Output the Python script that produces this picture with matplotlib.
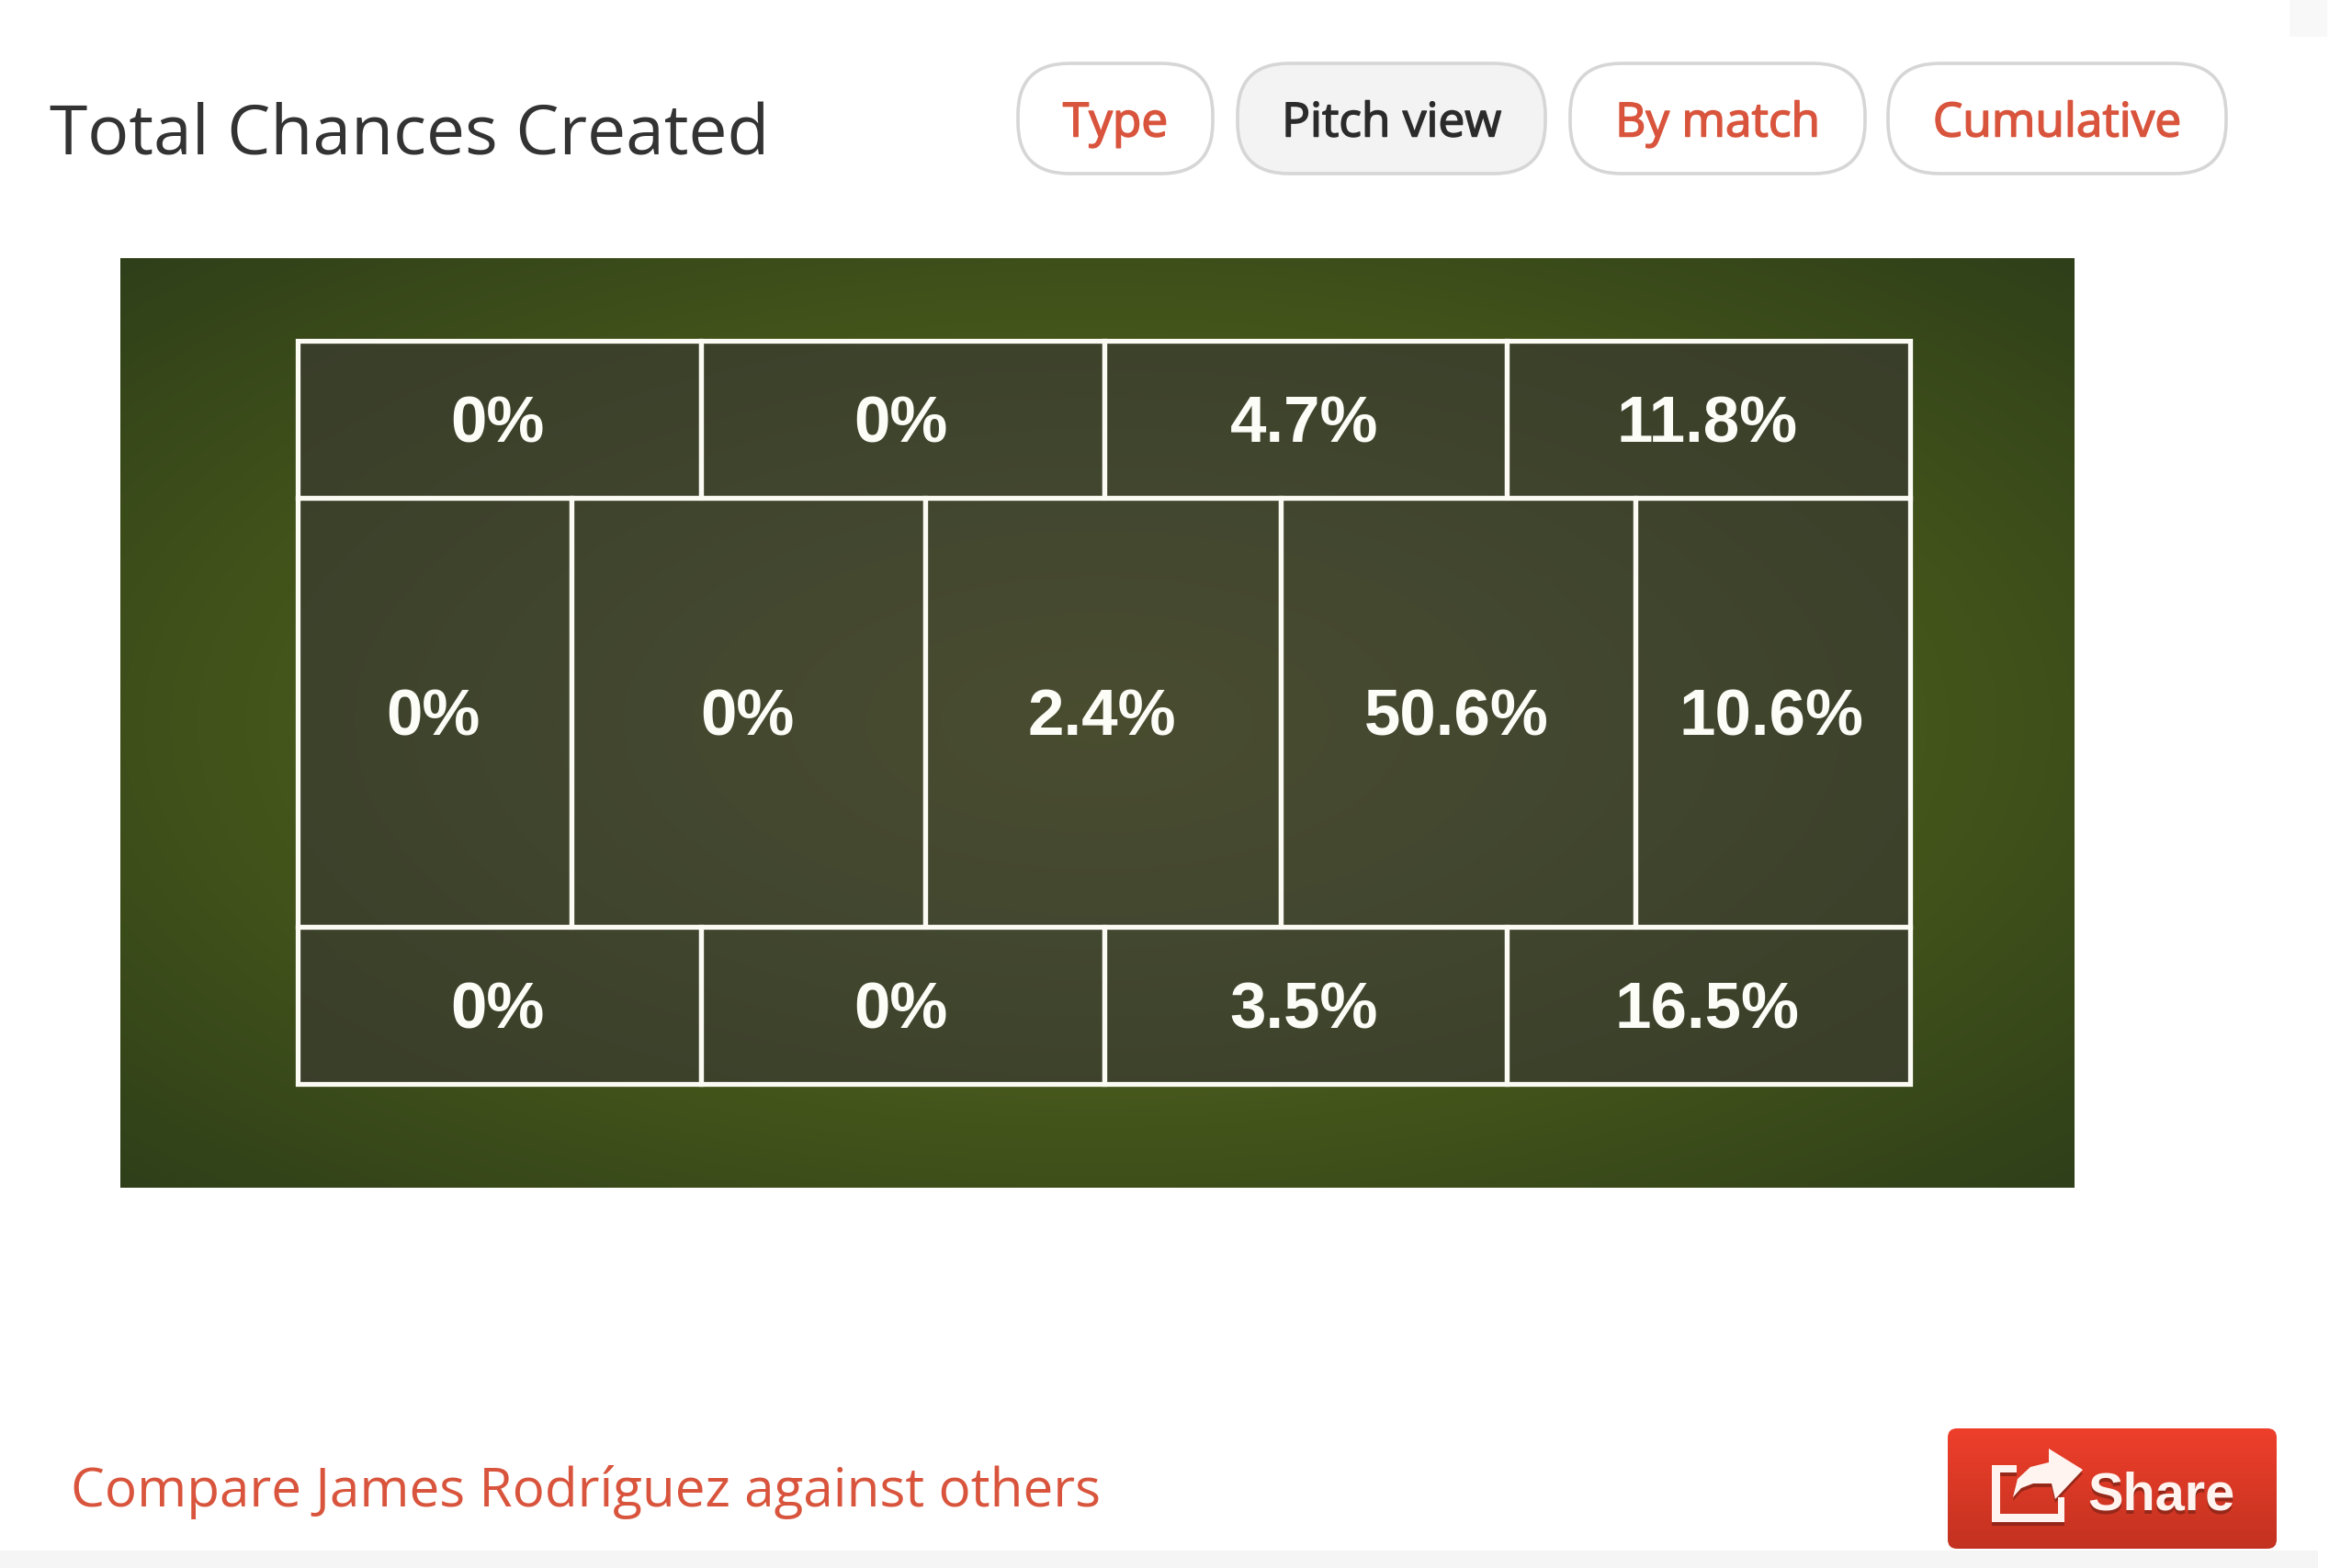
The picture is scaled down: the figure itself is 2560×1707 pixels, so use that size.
import matplotlib
matplotlib.use('Agg')
import matplotlib.pyplot as plt
import matplotlib.patheffects as pe
import numpy as np
from matplotlib.colors import LinearSegmentedColormap, to_rgba
from matplotlib.patches import FancyBboxPatch, Polygon, Rectangle

title = 'Total Chances Created'
buttons = ['Type', 'Pitch view', 'By match', 'Cumulative']
active_button = 'Pitch view'
compare_text = 'Compare James Rodríguez against others'
share_text = 'Share'

top_row = [0, 0, 4.7, 11.8]
middle_row = [0, 0, 2.4, 50.6, 10.6]
bottom_row = [0, 0, 3.5, 16.5]

RED = '#d9543c'
LINE = '#fbfbf4'

# page is laid out in pixels, y pointing down
fig = plt.figure(figsize=(25.6, 17.07), dpi=100)
ax = fig.add_axes([0, 0, 1, 1])


def rounded(x0, y0, x1, y1, r, **kw):
    p = FancyBboxPatch((x0 + r, y0 + r), x1 - x0 - 2 * r, y1 - y0 - 2 * r,
                       boxstyle=f'round,pad={r},rounding_size={r}', **kw)
    ax.add_patch(p)
    return p


# page furniture
ax.add_patch(Rectangle((0, 1688), 2523, 19, fc='#f5f5f5', ec='none'))
ax.add_patch(Rectangle((2492, 0), 41, 40, fc='#f8f8f8', ec='none'))

ax.text(54, 149, title, family='Open Sans', fontsize=54, color='#333333',
        ha='left', va='center')

button_x = [(1108, 1320), (1347, 1682), (1709, 2030), (2055, 2423)]
for name, (x0, x1) in zip(buttons, button_x):
    on = name == active_button
    rounded(x0, 69, x1, 189, 56, fc='#f3f3f3' if on else 'white', ec='#d6d6d6', lw=2.6)
    color = '#2b2b2b' if on else RED
    # slight stroke, the buttons use a heavier cut than Open Sans regular
    ax.text((x0 + x1) / 2, 135, name, family='Open Sans', fontsize=37, color=color,
            ha='center', va='center',
            path_effects=[pe.withStroke(linewidth=1.1, foreground=color)])

# pitch background, elliptical glow
px0, px1, py0, py1 = 131, 2258, 281, 1293
gx, gy = np.meshgrid(np.linspace(-1, 1, 500), np.linspace(-1, 1, 300))
glow = np.clip(np.sqrt((gx ** 2 + gy ** 2) / 2), 0, 1)
pitch_cmap = LinearSegmentedColormap.from_list(
    'pitch', [(0, '#6f792b'), (0.33, '#58672a'), (0.6, '#44551b'), (1, '#2f3f19')])
ax.imshow(glow, extent=(px0, px1, py1, py0), cmap=pitch_cmap, aspect='auto',
          interpolation='bilinear', vmin=0, vmax=1, zorder=1)

# zones
gx0, gx1 = 324, 2079
row_y = [371, 542, 1009, 1180]
side_edges = np.linspace(gx0, gx1, len(top_row) + 1)
middle_edges = [gx0, 622, 1007, 1394, 1780, gx1]

rows = [(top_row, side_edges, 0), (middle_row, middle_edges, 1), (bottom_row, side_edges, 2)]
for values, edges, r in rows:
    y0, y1 = row_y[r], row_y[r + 1]
    for i, v in enumerate(values):
        x0, x1 = edges[i], edges[i + 1]
        ax.add_patch(Rectangle((x0, y0), x1 - x0, y1 - y0, fc=to_rgba('#3a3a32', 0.7),
                               ec=LINE, lw=3.8, zorder=2))
        ax.text((x0 + x1) / 2 - 1.5, (y0 + y1) / 2 + 7, f'{v:g}%', family='Liberation Sans',
                fontweight='bold', fontsize=51, color='#fdfdf8', ha='center',
                va='center', zorder=3)

ax.text(77, 1624, compare_text, family='Open Sans', fontsize=42.1, color=RED,
        ha='left', va='center')

# share button
bx0, bx1, by0, by1 = 2120, 2478, 1555, 1686
clip = rounded(bx0, by0, bx1, by1, 10, fc='none', ec='none')
grad = ax.imshow(np.linspace(0, 1, 100)[:, None], extent=(bx0, bx1, by1, by0),
                 cmap=LinearSegmentedColormap.from_list('btn', ['#ee3f2b', '#c33220']),
                 aspect='auto', zorder=2)
grad.set_clip_path(clip)


def icon(dx, dy, color, z):
    tray = [(2168, 1595), (2195, 1595), (2195, 1603), (2177, 1603), (2177, 1648),
            (2240, 1648), (2240, 1630), (2247, 1630), (2247, 1657), (2168, 1657)]
    arrow = [(2230, 1577), (2267, 1600), (2237, 1632), (2233, 1615), (2213, 1615),
             (2200, 1620), (2191, 1630), (2196, 1610), (2210, 1597), (2230, 1592)]
    for pts in (tray, arrow):
        ax.add_patch(Polygon([(x + dx, y + dy) for x, y in pts], closed=True,
                             fc=color, ec='none', zorder=z))


icon(0, 4, '#96281a', 3)
icon(0, 0, '#fff4f0', 4)
ax.text(2272, 1648, share_text, family='Liberation Sans', fontweight='bold', fontsize=41.5,
        color='#96281a', ha='left', va='baseline', zorder=3)
ax.text(2272, 1644, share_text, family='Liberation Sans', fontweight='bold', fontsize=41.5,
        color='#fff4f0', ha='left', va='baseline', zorder=4)

ax.set_xlim(0, 2560)
ax.set_ylim(1707, 0)
ax.axis('off')
fig.savefig('out.png', dpi=100, facecolor='white')
